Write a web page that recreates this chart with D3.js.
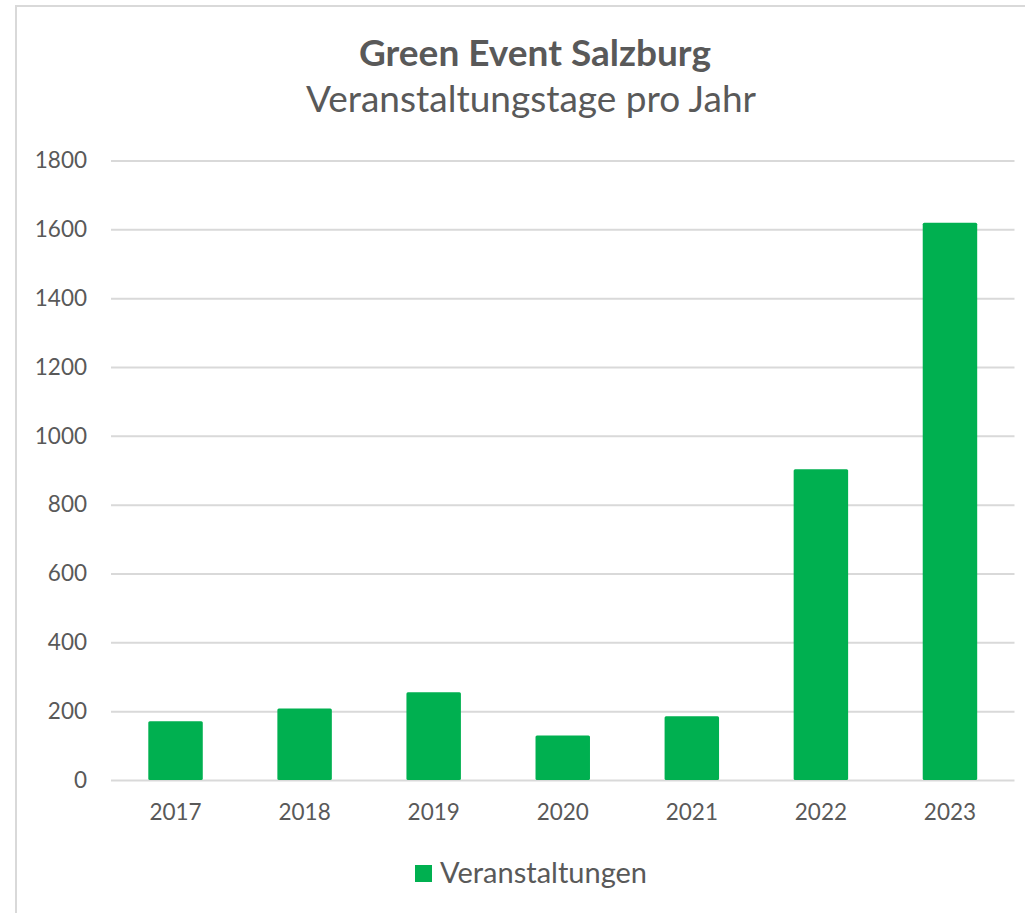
<!DOCTYPE html>
<html>
<head>
<meta charset="utf-8">
<script src="https://cdn.jsdelivr.net/npm/d3@7"></script>
<style>
    body { margin: 0; background: #fff; }
    svg text { font-family: Lato, "Open Sans", sans-serif; fill: #595959; }
</style>
</head>
<body>
<svg id="chart" width="1025" height="913"></svg>
<script>
"use strict";

// data
var years = ["2017", "2018", "2019", "2020", "2021", "2022", "2023"];
var veranstaltungen = [171, 208, 255, 129, 185, 903, 1619];
var yTicks = [0, 200, 400, 600, 800, 1000, 1200, 1400, 1600, 1800];

var seriesName = "Veranstaltungen",
    title = "Green Event Salzburg",
    subtitle = "Veranstaltungstage pro Jahr";

var green = "#00b050",
    grid = "#d9d9d9";


var svg = d3.select("#chart");

    // chart frame
svg.append("rect")
    .attr("x", 16)
    .attr("y", 6)
    .attr("width", 1100)
    .attr("height", 1000)
    .attr("fill", "white")
    .attr("stroke", grid)
    .attr("stroke-width", 2);


var x = d3.scaleBand()
    .domain(years)
    .range([111, 1014.5])
    .paddingInner(0.578)
    .paddingOuter(0.289);

var y = d3.scaleLinear()
    .domain([0, 1800])
    .range([780, 160.5]);


    // gridlines + y labels
var yAxis = d3.axisLeft(y)
    .tickValues(yTicks)
    .tickFormat(d3.format("d"))
    .tickSize(-(1014.5 - 111))
    .tickPadding(24);

svg.append("g")
    .attr("transform", "translate(111,0)")
    .call(yAxis)
    .call(g => g.select(".domain").remove())
    .call(g => g.selectAll(".tick line").attr("stroke", grid).attr("stroke-width", 2))
    .call(g => g.selectAll(".tick text")
        .attr("font-size", 22.5)
        .attr("font-family", "Lato, sans-serif")
        .attr("fill", "#595959"));


    // x labels
var xAxis = d3.axisBottom(x).tickSize(0).tickPadding(24);

svg.append("g")
    .attr("transform", "translate(0,780)")
    .call(xAxis)
    .call(g => g.select(".domain").remove())
    .call(g => g.selectAll(".tick text")
        .attr("font-size", 22.5)
        .attr("font-family", "Lato, sans-serif")
        .attr("fill", "#595959"));


    // bars
svg.append("g")
    .selectAll("rect")
    .data(veranstaltungen)
    .join("rect")
        .attr("x", (d, i) => x(years[i]))
        .attr("y", d => y(d))
        .attr("width", x.bandwidth())
        .attr("height", d => y(0) - y(d))
        .attr("rx", 1.5)
        .attr("fill", green);


    // titles
svg.append("text")
    .attr("x", 535)
    .attr("y", 66)
    .attr("text-anchor", "middle")
    .attr("font-size", 37)
    .attr("font-weight", "bold")
    .text(title);

svg.append("text")
    .attr("x", 531)
    .attr("y", 112)
    .attr("text-anchor", "middle")
    .attr("font-size", 37)
    .text(subtitle);


    // legend
var legend = svg.append("g").attr("transform", "translate(415,865)");

legend.append("rect")
    .attr("width", 17)
    .attr("height", 17)
    .attr("fill", green);

legend.append("text")
    .attr("x", 25)
    .attr("y", 18)
    .attr("font-size", 29)
    .text(seriesName);

</script>
</body>
</html>
